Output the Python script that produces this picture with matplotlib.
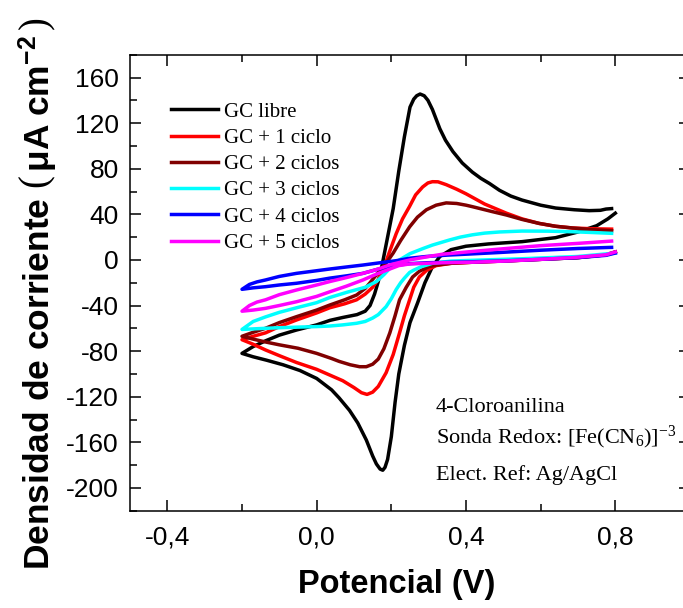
import numpy as np
import matplotlib
matplotlib.use("Agg")
import matplotlib.pyplot as plt
from matplotlib.ticker import MultipleLocator, FixedLocator, FuncFormatter

plt.rcParams['axes.unicode_minus'] = False
plt.rcParams['mathtext.fontset'] = 'custom'
plt.rcParams['mathtext.rm'] = 'Liberation Serif'
plt.rcParams['mathtext.it'] = 'Liberation Serif:italic'
plt.rcParams['mathtext.bf'] = 'Liberation Sans:bold'

# potencial (V) y densidad de corriente (uA cm-2), barrido de 0,8 -> -0,2 -> 0,8
e_libre = [0.80, 0.78, 0.75, 0.70, 0.64, 0.55, 0.46, 0.40, 0.36, 0.33, 0.31, 0.29, 0.27, 0.25, 0.235,
           0.22, 0.21, 0.20, 0.19, 0.183, 0.177, 0.17, 0.16, 0.15, 0.133, 0.11, 0.088, 0.06, 0.04, 0.0,
           -0.045, -0.09, -0.134, -0.17, -0.2,
           -0.17, -0.137, -0.1, -0.054, 0.0, 0.036, 0.07, 0.108, 0.13, 0.143, 0.155, 0.165, 0.175,
           0.19, 0.205, 0.22, 0.235, 0.25, 0.26, 0.268, 0.277, 0.288, 0.298, 0.31, 0.33, 0.345,
           0.365, 0.39, 0.417, 0.44, 0.463, 0.49, 0.52, 0.55, 0.60, 0.64, 0.69, 0.73, 0.76, 0.775, 0.79]
j_libre = [41, 36, 30, 24.5, 19.5, 16, 14, 12, 9, 3, -6, -20, -38, -55, -75,
           -100, -125, -155, -175, -182, -184.5, -183.5, -179, -172, -158, -143, -132, -121, -114, -104,
           -97, -92, -88, -85, -82,
           -76, -71, -66, -61.5, -57, -53, -50.5, -48, -45, -40, -30, -19, -5,
           20, 45, 78, 108, 134, 141, 144, 145.5, 144, 140, 132, 115, 105,
           95, 85, 77, 71.5, 67, 61, 56, 52.5, 48, 45.5, 44, 43.2, 43.5, 44.6, 45]

e_c1 = [0.80, 0.775, 0.70, 0.60, 0.50, 0.42, 0.36, 0.32, 0.295, 0.275, 0.26, 0.249, 0.235, 0.222,
        0.205, 0.186, 0.165, 0.15, 0.135, 0.12, 0.1, 0.07, 0.035, 0.0, -0.054, -0.1, -0.137, -0.17, -0.2,
        -0.17, -0.137, -0.1, -0.054, 0.0, 0.035, 0.075, 0.107, 0.13, 0.15, 0.165, 0.18, 0.195, 0.213,
        0.23, 0.249, 0.265, 0.284, 0.298, 0.31, 0.325, 0.347, 0.375, 0.4, 0.45, 0.508, 0.55, 0.596,
        0.64, 0.685, 0.74, 0.79]
j_c1 = [7, 4.5, 2, 0.5, -1, -2, -3, -5, -9, -15, -24, -35, -49, -64,
        -83, -99, -111, -116, -118, -116.5, -112, -106, -101, -96, -90, -84, -79, -74, -70,
        -67, -64, -58.5, -52.7, -46.5, -42, -38.5, -35, -30, -24, -17, -7, 7, 23,
        36, 47, 57, 64, 67.5, 68.6, 68.5, 66, 62, 58, 49, 41, 36, 32,
        29.5, 28, 27.3, 27]

e_c2 = [0.80, 0.775, 0.70, 0.60, 0.50, 0.42, 0.36, 0.32, 0.30, 0.275, 0.257, 0.24, 0.222, 0.21,
        0.196, 0.18, 0.165, 0.15, 0.133, 0.115, 0.09, 0.06, 0.04, 0.0, -0.05, -0.1, -0.137, -0.17, -0.2,
        -0.17, -0.137, -0.1, -0.054, 0.0, 0.035, 0.075, 0.107, 0.13, 0.143, 0.16, 0.17, 0.19, 0.205,
        0.225, 0.249, 0.27, 0.294, 0.32, 0.347, 0.375, 0.4, 0.417, 0.471, 0.508, 0.55, 0.596, 0.64,
        0.685, 0.74, 0.79]
j_c2 = [7, 4.5, 2, 0.5, -1, -2, -3, -4.5, -6, -10, -15, -24, -35, -49,
        -64, -78, -87, -91.5, -93.7, -93.7, -92, -89, -86.5, -82, -77.5, -74.5, -72, -69.5, -67,
        -63.5, -60, -55, -49.8, -44, -39.6, -35, -30.8, -25, -20, -13, -8.8, -1, 6,
        17, 29, 37.5, 44, 48, 50, 49.5, 48, 46.7, 42.3, 39.4, 35.5, 32, 29.5,
        28, 26.5, 25.6]

e_c3 = [0.80, 0.70, 0.55, 0.45, 0.36, 0.31, 0.28, 0.26, 0.249, 0.235, 0.225, 0.213, 0.2, 0.186,
        0.165, 0.15, 0.13, 0.107, 0.07, 0.035, 0.0, -0.054, -0.1, -0.137, -0.2,
        -0.17, -0.137, -0.1, -0.054, 0.0, 0.035, 0.08, 0.13, 0.16, 0.18, 0.2, 0.222, 0.25, 0.285,
        0.31, 0.356, 0.385, 0.417, 0.45, 0.49, 0.55, 0.62, 0.685, 0.74, 0.79]
j_c3 = [6, 3, 1, 0, -1, -3, -6, -9, -11, -16, -20, -26, -34, -41,
        -48, -51, -54, -55.6, -57, -58, -58.5, -59, -59.5, -60, -61,
        -54, -50, -46, -42, -37.5, -33, -28.5, -24, -19, -13, -6, 0, 5.5, 10,
        13, 17.5, 20, 22, 23.5, 24.5, 25.3, 25.2, 24.7, 24, 23.3]

e_c4 = [0.80, 0.775, 0.70, 0.60, 0.49, 0.40, 0.294, 0.25, 0.205, 0.16, 0.124, 0.08, 0.035, 0.0,
        -0.054, -0.1, -0.137, -0.17, -0.2,
        -0.18, -0.16, -0.137, -0.1, -0.054, 0.0, 0.035, 0.08, 0.124, 0.17, 0.213, 0.25, 0.294,
        0.35, 0.4, 0.49, 0.6, 0.7, 0.79]
j_c4 = [6, 4, 2, 0.5, -1, -1.8, -2.5, -3.3, -5, -8.5, -11.8, -14, -16, -18,
        -20.5, -22, -23.5, -24.5, -25.8,
        -21.5, -19.3, -17.6, -14.5, -11.8, -9.5, -8, -6.2, -4.5, -2.5, -0.7, 1.5, 3,
        4.2, 5, 6.5, 8.5, 10, 11]

e_c5 = [0.80, 0.775, 0.685, 0.6, 0.508, 0.42, 0.337, 0.25, 0.22, 0.196, 0.16, 0.124, 0.08, 0.035,
        0.0, -0.054, -0.1, -0.137, -0.17, -0.2,
        -0.18, -0.16, -0.137, -0.1, -0.054, 0.0, 0.035, 0.08, 0.124, 0.16, 0.2, 0.25, 0.3,
        0.337, 0.42, 0.508, 0.6, 0.7, 0.79]
j_c5 = [7, 4.5, 2, 0.5, -1, -2, -2.5, -3.5, -5, -8, -12.5, -17.6, -23, -28,
        -32, -36.7, -40, -42.5, -44, -45,
        -40, -37, -35, -30.5, -26.4, -22, -19, -15.5, -11.8, -8.5, -4, 0, 3,
        5, 7.5, 10, 12.5, 14.5, 16.5]

nombres = ['GC libre', 'GC + 1 ciclo', 'GC + 2 ciclos', 'GC + 3 ciclos', 'GC + 4 ciclos', 'GC + 5 ciclos']
colores = ['black', '#ff0000', '#800000', '#00ffff', '#0000ff', '#ff00ff']
curvas = [(e_libre, j_libre), (e_c1, j_c1), (e_c2, j_c2), (e_c3, j_c3), (e_c4, j_c4), (e_c5, j_c5)]

fig = plt.figure(figsize=(6.83, 6.08), dpi=100)
ax = fig.add_axes([130/683, 1-510.7/608, 560/683, 456/608])

for (e, j), c, n in zip(curvas, colores, nombres):
    ax.plot(e, j, color=c, lw=2.5, label=n, solid_joinstyle='round')

ax.set_xlim(-0.5, 1.0)
ax.set_ylim(-220, 180)
ax.xaxis.set_major_locator(FixedLocator([-0.4, 0.0, 0.4, 0.8]))
ax.xaxis.set_minor_locator(FixedLocator([-0.2, 0.2, 0.6]))
ax.yaxis.set_major_locator(MultipleLocator(40))
ax.yaxis.set_minor_locator(MultipleLocator(20))
ax.xaxis.set_major_formatter(FuncFormatter(lambda v, p: ('%.1f' % v).replace('.', ',')))
ax.yaxis.set_major_formatter(FuncFormatter(lambda v, p: '%d' % v))
ax.set_ylim(-220, 180)

ax.tick_params(which='both', direction='in', top=True, right=True, width=1.1)
ax.tick_params(which='major', length=8)
ax.tick_params(which='minor', length=5)
ax.tick_params(axis='x', which='major', pad=11)
ax.tick_params(axis='y', which='major', pad=8)
for lab in ax.get_xticklabels() + ax.get_yticklabels():
    lab.set_fontfamily('Liberation Sans')
    lab.set_fontsize(19)
for s in ax.spines.values():
    s.set_linewidth(1.1)

leg = ax.legend(loc='upper left', bbox_to_anchor=((171-130)/560, (510.7-102)/456),
                frameon=False, borderpad=0, borderaxespad=0, handlelength=2.25,
                handletextpad=0.28, labelspacing=0.32,
                prop={'family': 'Liberation Serif', 'size': 15})

fig.text(436/683, 1-411.7/608, '4-Cloroanilina', family='Liberation Serif', size=16, va='baseline')
fig.text(436/683, 1-443/608, r'Sonda Redox: [Fe(CN$_6$)]$^{-3}$', family='Liberation Serif',
         size=16, va='baseline')
fig.text(436/683, 1-480/608, 'Elect. Ref: Ag/AgCl', family='Liberation Serif', size=16, va='baseline')

fig.text(397/683, 1-585/608, 'Potencial (V)', family='Liberation Sans', weight='bold', size=23.5,
         ha='center', va='center')
fig.text(38/683, 1-294/608, r'Densidad de corriente $\left(\,\mathbf{\mu A\ cm^{-2}}\,\right)$',
         family='Liberation Sans', weight='bold', size=25.5, rotation=90, ha='center', va='center')

fig.savefig('out.png', dpi=100)
